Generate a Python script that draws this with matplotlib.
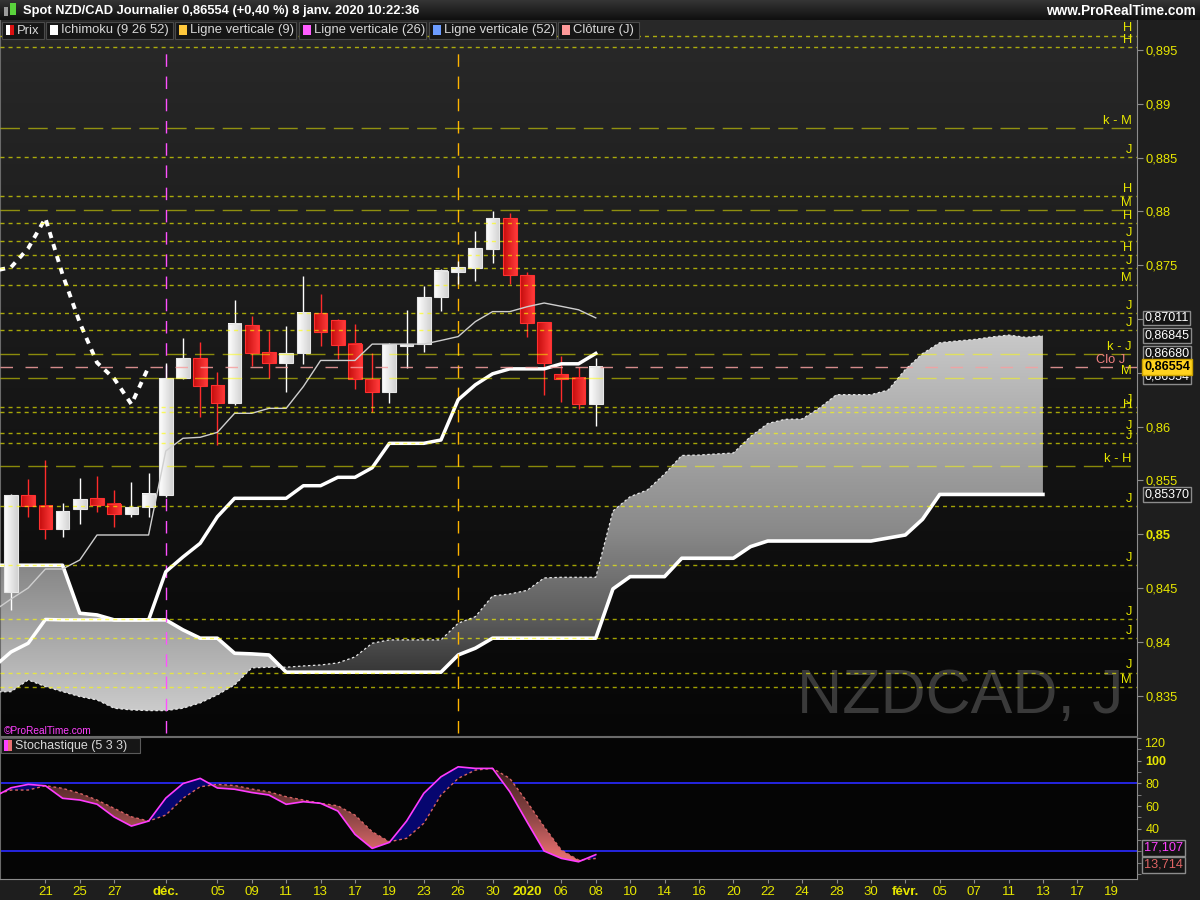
import numpy as np
import matplotlib
matplotlib.use('Agg')
import matplotlib.pyplot as plt
from matplotlib.colors import LinearSegmentedColormap
from matplotlib.path import Path
from matplotlib.patches import Rectangle
from matplotlib.transforms import blended_transform_factory

plt.rcParams['font.family'] = ['Liberation Sans', 'DejaVu Sans']

# daily candles: bar 0 = 19 nov. 2019 ... bar 34 = 8 janv. 2020
opens = [0.84466, 0.85362, 0.85266, 0.85052, 0.85238, 0.85334, 0.85281, 0.85191, 0.85251, 0.85365,
         0.86450, 0.86635, 0.86384, 0.86217, 0.86942, 0.86691, 0.86595, 0.86682, 0.87054, 0.86991,
         0.86766, 0.86440, 0.86325, 0.86752, 0.86766, 0.87202, 0.87435, 0.87477, 0.87654, 0.87937,
         0.87407, 0.86970, 0.86487, 0.86450, 0.86208]
highs = [0.85374, 0.85511, 0.85690, 0.85288, 0.85520, 0.85542, 0.85411, 0.85489, 0.85572, 0.86589,
         0.86824, 0.86784, 0.86505, 0.87177, 0.87029, 0.86892, 0.86936, 0.87400, 0.87233, 0.86998,
         0.86954, 0.86682, 0.86775, 0.87084, 0.87307, 0.87468, 0.87540, 0.87818, 0.88004, 0.87989,
         0.87437, 0.86970, 0.86657, 0.86557, 0.86635]
lows = [0.84296, 0.85158, 0.84959, 0.84977, 0.85095, 0.85210, 0.85070, 0.85163, 0.85163, 0.85346,
        0.86443, 0.86093, 0.85830, 0.86201, 0.86567, 0.86450, 0.86325, 0.86582, 0.86752, 0.86629,
        0.86350, 0.86134, 0.86223, 0.86548, 0.86697, 0.87078, 0.87326, 0.87354, 0.87518, 0.87326,
        0.86836, 0.86294, 0.86232, 0.86167, 0.86009]
closes = [0.85365, 0.85266, 0.85052, 0.85216, 0.85328, 0.85272, 0.85188, 0.85253, 0.85374, 0.86450,
          0.86635, 0.86381, 0.86217, 0.86954, 0.86687, 0.86589, 0.86685, 0.87054, 0.86883, 0.86762,
          0.86440, 0.86325, 0.86766, 0.86766, 0.87202, 0.87447, 0.87481, 0.87658, 0.87937, 0.87412,
          0.86966, 0.86595, 0.86446, 0.86208, 0.86554]

# Ichimoku (9 26 52), tenkan / kijun from bar -1 to bar 34
tenkan = [0.84287, 0.84398, 0.84501, 0.84677, 0.84677, 0.84761, 0.84993, 0.84993, 0.84993, 0.84993,
          0.85774, 0.85892, 0.85901, 0.85947, 0.86124, 0.86124, 0.86170, 0.86170, 0.86373, 0.86615,
          0.86615, 0.86615, 0.86767, 0.86767, 0.86767, 0.86767, 0.86801, 0.86837, 0.86976, 0.87069,
          0.87069, 0.87114, 0.87149, 0.87118, 0.87086, 0.87011]
kijun = [0.83767, 0.83906, 0.83987, 0.84208, 0.84204, 0.84204, 0.84204, 0.84204, 0.84204, 0.84204,
         0.84652, 0.84789, 0.84916, 0.85163, 0.85334, 0.85334, 0.85334, 0.85334, 0.85451, 0.85451,
         0.85529, 0.85529, 0.85618, 0.85845, 0.85845, 0.85845, 0.85876, 0.86250, 0.86389, 0.86491,
         0.86537, 0.86537, 0.86537, 0.86584, 0.86584, 0.86680]
# senkou spans from bar -1 to bar 60
span_a = [0.83535, 0.83537, 0.83646, 0.83584, 0.83537, 0.83491, 0.83460, 0.83383, 0.83367, 0.83361,
          0.83361, 0.83383, 0.83432, 0.83507, 0.83600, 0.83758, 0.83764, 0.83764, 0.83776, 0.83785,
          0.83804, 0.83860, 0.83987, 0.84018, 0.84018, 0.84018, 0.84018, 0.84173, 0.84234, 0.84427,
          0.84445, 0.84478, 0.84594, 0.84600, 0.84600, 0.84600, 0.85216, 0.85349, 0.85411, 0.85560,
          0.85732, 0.85736, 0.85746, 0.85755, 0.85908, 0.86029, 0.86068, 0.86071, 0.86173, 0.86297,
          0.86297, 0.86297, 0.86340, 0.86531, 0.86679, 0.86780, 0.86796, 0.86810, 0.86833, 0.86851,
          0.86830, 0.86845]
span_b = [0.84712, 0.84712, 0.84712, 0.84712, 0.84712, 0.84266, 0.84250, 0.84204, 0.84204, 0.84204,
          0.84204, 0.84111, 0.84034, 0.84034, 0.83894, 0.83888, 0.83878, 0.83718, 0.83718, 0.83718,
          0.83718, 0.83718, 0.83718, 0.83718, 0.83718, 0.83718, 0.83718, 0.83878, 0.83941, 0.84034,
          0.84034, 0.84034, 0.84034, 0.84034, 0.84034, 0.84034, 0.84492, 0.84606, 0.84606, 0.84606,
          0.84777, 0.84777, 0.84777, 0.84777, 0.84885, 0.84937, 0.84937, 0.84937, 0.84937, 0.84937,
          0.84937, 0.84937, 0.84965, 0.84993, 0.85139, 0.85370, 0.85370, 0.85370, 0.85370, 0.85370,
          0.85370, 0.85370]

# Stochastique (5 3 3), bar -1 to bar 34
stoch_k = [67.9, 76.1, 79.1, 77.9, 66.8, 65.3, 61.6, 50.3, 42.3, 46.7, 67.0, 79.8, 84.4, 75.9,
           74.8, 71.9, 69.7, 61.5, 63.8, 62.4, 55.6, 35.0, 22.6, 27.9, 46.7, 71.2, 85.8, 94.6,
           93.2, 93.2, 72.6, 46.1, 20.3, 13.8, 10.8, 17.107]
stoch_d = [69.7, 74.1, 74.1, 77.9, 75.6, 71.2, 65.3, 57.9, 50.5, 46.7, 52.0, 66.8, 77.0, 79.1,
           78.1, 75.0, 72.5, 68.2, 65.3, 62.4, 60.2, 52.0, 37.3, 28.5, 31.5, 44.7, 69.7, 84.4,
           91.7, 93.2, 84.4, 63.8, 41.7, 21.1, 12.3, 13.714]

# horizontal levels on the right
level_prices = [0.89634, 0.89526, 0.88778, 0.88503, 0.88141, 0.88013, 0.87893, 0.87729, 0.87592,
                0.87474, 0.87314, 0.87054, 0.86898, 0.86675, 0.86449, 0.86180, 0.86134, 0.85938,
                0.85845, 0.85634, 0.85260, 0.84712, 0.84210, 0.84033, 0.83714, 0.83578]
level_labels = ['H', 'H', 'k - M', 'J', 'H', 'M', 'H', 'J', 'H', 'J', 'M', 'J', 'J', 'k - J', 'M',
                'J', 'H', 'J', 'J', 'k - H', 'J', 'J', 'J', 'J', 'J', 'M']
long_dash = [2, 5, 13, 14, 19]

date_pos = [2, 4, 6, 9, 12, 14, 16, 18, 20, 22, 24, 26, 28, 30, 32, 34, 36, 38, 40, 42, 44, 46,
            48, 50, 52, 54, 56, 58, 60, 62, 64]
date_labels = ['21', '25', '27', 'déc.', '05', '09', '11', '13', '17', '19', '23', '26', '30',
               '2020', '06', '08', '10', '14', '16', '20', '22', '24', '28', '30', 'févr.', '05',
               '07', '11', '13', '17', '19']

price_ticks = [0.835, 0.84, 0.845, 0.85, 0.855, 0.86, 0.865, 0.87, 0.875, 0.88, 0.885, 0.89, 0.895]

YEL = '#e6e600'
W, H = 1200, 900
XLIM = (-0.64, 65.47)


def fmt(v, n):
    return f"{v:.{n}f}".replace('.', ',')


def grad_cmap(stops):
    return LinearSegmentedColormap.from_list('g', stops)


def clip_gradient(axis, coll, x0, x1, y0, y1, stops, z):
    clip = Path.make_compound_path(*coll.get_paths())
    im = axis.imshow(np.linspace(0, 1, 256)[:, None], origin='lower', aspect='auto',
                     cmap=grad_cmap(stops), extent=[x0, x1, y0, y1], zorder=z,
                     interpolation='bilinear')
    im.set_clip_path(clip, axis.transData)


fig = plt.figure(figsize=(12, 9), dpi=100, facecolor='#1e1e1e')


def fig_box(x0, y0, x1, y1, **kw):
    fig.add_artist(Rectangle((x0 / W, 1 - y1 / H), (x1 - x0) / W, (y1 - y0) / H,
                             transform=fig.transFigure, **kw))


def fig_text(x, y, s, **kw):
    fig.text(x / W, 1 - y / H, s, **kw)


# title bar
ax_t = fig.add_axes([0, 1 - 20 / H, 1, 20 / H])
ax_t.imshow(np.linspace(0, 1, 20)[:, None], aspect='auto', extent=[0, 1, 0, 1],
            cmap=grad_cmap(['#101010', '#343434']), origin='lower')
ax_t.axis('off')
fig_box(4, 7, 8, 16, fc='#9a9a9a', ec='none')
fig_box(10, 3, 16, 15, fc='#5ad23c', ec='none')
fig_text(23, 11, 'Spot NZD/CAD Journalier 0,86554 (+0,40 %) 8 janv. 2020 10:22:36',
         color='white', weight='bold', size=9.3, va='center')
fig_text(1196, 11, 'www.ProRealTime.com', color='white', weight='bold', size=9.8,
         va='center', ha='right')

# ---------------- main price panel ----------------
ax = fig.add_axes([0, 1 - 736 / H, 1137 / W, 716 / H])
ax.set_facecolor('#151515')
ylim = (0.83125, 0.89779)
ax.imshow(np.linspace(0, 1, 256)[:, None], origin='lower', aspect='auto',
          extent=[XLIM[0], XLIM[1], ylim[0], ylim[1]],
          cmap=grad_cmap(['#060606', '#292929']), zorder=0)

ax.text(797 / W, 1 - 713 / H, 'NZDCAD, J', transform=fig.transFigure, size=45,
        color='#3a3a3a', va='baseline', ha='left', zorder=1)

# kumo
xc = np.arange(-1, len(span_a) - 1)
sa = np.array(span_a)
sb = np.array(span_b)
bull = ax.fill_between(xc, sa, sb, where=sa >= sb, interpolate=True, facecolor='none',
                       edgecolor='none')
bear = ax.fill_between(xc, sa, sb, where=sa < sb, interpolate=True, facecolor='none',
                       edgecolor='none')
clip_gradient(ax, bull, -1, 60, 0.8370, 0.8690,
              [(0, '#363636'), (0.16, '#5c5c5c'), (0.42, '#8a8a8a'), (1, '#cacaca')], 2.5)
clip_gradient(ax, bear, -1, 60, 0.8334, 0.8472, [(0, '#cccccc'), (1, '#868686')], 2.5)
ax.plot(xc, sb, color='white', lw=2.6, zorder=4, solid_joinstyle='round')
ax.plot(xc, sa, color='#e8e8e8', lw=0.9, ls=(0, (2, 2)), zorder=4)

# vertical lines
ax.axvline(9, ymin=0.004, ymax=0.965, color='#ff50ff', lw=1, ls=(0, (9, 7)), zorder=4.5)
ax.axvline(26, ymin=0.004, ymax=0.965, color='#ffb400', lw=1, ls=(0, (9, 7)), zorder=4.5)

# candles
white_cmap = grad_cmap(['#ffffff', '#d2d2d2'])
red_cmap = grad_cmap(['#c40c0c', '#ff3a3a'])
hgrad = np.linspace(0, 1, 32)[None, :]
for i in range(len(closes)):
    o, h, l, c = opens[i], highs[i], lows[i], closes[i]
    up = c >= o
    ax.vlines(i, l, h, color='white' if up else '#ff2b2b', lw=1, zorder=5)
    lo, hi = min(o, c), max(o, c)
    ax.imshow(hgrad, extent=[i - 0.4, i + 0.4, lo, hi], aspect='auto',
              cmap=white_cmap if up else red_cmap, zorder=6)
    ax.add_patch(Rectangle((i - 0.4, lo), 0.8, hi - lo, fill=False,
                           ec='#e6e6e6' if up else '#ff3030', lw=0.8, zorder=6.5))

# tenkan, kijun, chikou
xi = np.arange(-1, len(tenkan) - 1)
ax.plot(xi, tenkan, color='#cfcfcf', lw=1.0, zorder=7)
ax.plot(xi, kijun, color='white', lw=2.5, zorder=7, solid_joinstyle='round')
ax.plot(np.arange(-1, 9), closes[25:35], color='white', lw=2.8, ls=(0, (1.6, 1.6)), zorder=7)

# horizontal levels
for n, (p, lab) in enumerate(zip(level_prices, level_labels)):
    if n in long_dash:
        ax.axhline(p, color='#ffff00', alpha=0.5, lw=1, ls=(0, (14, 6)), zorder=9)
    else:
        ax.axhline(p, color='#ffff00', alpha=0.62, lw=1, ls=(0, (2.9, 2.9)), zorder=9)
    ax.annotate(lab, xy=(65.17, p), xytext=(0, 3), textcoords='offset points', ha='right',
                va='baseline', color=YEL, size=9.3, zorder=10)
ax.axhline(closes[-1], color='#f6a0a0', alpha=0.85, lw=1, ls=(0, (9, 9)), zorder=9)
ax.annotate('Clo J', xy=(64.8, closes[-1]), xytext=(0, 3), textcoords='offset points',
            ha='right', va='baseline', color='#f08080', size=9.3, zorder=10)

ax.set_xlim(*XLIM)
ax.set_ylim(*ylim)
ax.set_xticks([])
ax.yaxis.tick_right()
ax.set_yticks(price_ticks)
# 0,865 and 0,87 sit behind the value boxes, so their labels stay hidden
hidden_ticks = (0.865, 0.87)
ax.set_yticklabels(['' if v in hidden_ticks else f"{v:.3f}".rstrip('0').replace('.', ',')
                    for v in price_ticks])
ax.tick_params(axis='y', colors='#8c8c8c', labelcolor=YEL, labelsize=9.3, length=4, pad=2)
for t in ax.get_yticklabels():
    if t.get_text() == '0,85':
        t.set_fontweight('bold')
for side in ['left', 'bottom']:
    ax.spines[side].set_color('#6a6a6a')
ax.spines['right'].set_color('#8c8c8c')
ax.spines['top'].set_visible(False)

# value boxes on the right axis
trans = blended_transform_factory(ax.transAxes, ax.transData)
box = dict(boxstyle='square,pad=0.1', fc='#141414', ec='#8c8c8c', lw=1)
for v in [tenkan[-1], span_a[-1], kijun[-1], span_b[-1]]:
    ax.text(1.0066, v, fmt(v, 5), transform=trans, color='white', size=9, va='center',
            ha='left', bbox=box, clip_on=False, zorder=20)
ax.annotate(fmt(closes[-1], 5), xy=(1.0066, closes[-1]), xycoords=trans, xytext=(0, -7),
            textcoords='offset points', color='white', size=9, va='center', ha='left',
            bbox=box, annotation_clip=False, zorder=20)
ax.text(1.0062, closes[-1], fmt(closes[-1], 5), transform=trans, color='black', size=9.1,
        weight='bold', va='center', ha='left', clip_on=False, zorder=21,
        bbox=dict(boxstyle='square,pad=0.18', fc='#ffd21e', ec='#c8a000', lw=1))

# legends
fig_text(4, 731, '©ProRealTime.com', color='#ff40ff', size=7.3, va='center')
legend_items = ['Prix', 'Ichimoku (9 26 52)', 'Ligne verticale (9)', 'Ligne verticale (26)',
                'Ligne verticale (52)', 'Clôture (J)']
legend_x = [(2, 43.5), (45.6, 173), (175, 296.4), (298.5, 426), (429, 555.5), (557.6, 638.5)]
legend_col = [None, '#ffffff', '#ffc83c', '#ff5cff', '#6c9cff', '#ff9a9a']
for lab, (x0, x1), col in zip(legend_items, legend_x, legend_col):
    fig_box(x0, 22, x1, 38.5, fc='#161616', ec='#4a4a4a', lw=0.8)
    if col is None:
        fig_box(x0 + 4, 25, x0 + 8, 35, fc='white', ec='none')
        fig_box(x0 + 8, 25, x0 + 12, 35, fc='#dd1111', ec='none')
    else:
        fig_box(x0 + 4, 25, x0 + 12, 35, fc=col, ec='none')
    fig_text(x0 + 15, 30.5, lab, color='#d8d8d8', size=9.4, va='center')

# ---------------- stochastic panel ----------------
ax2 = fig.add_axes([0, 1 - 879 / H, 1137 / W, 142 / H])
ax2.set_facecolor('#050505')
xs = np.arange(-1, len(stoch_k) - 1)
k = np.array(stoch_k)
d = np.array(stoch_d)
ax2.axhline(80, color='#2828f0', lw=1.3, zorder=1)
ax2.axhline(20, color='#2828f0', lw=1.3, zorder=1)
ax2.fill_between(xs, k, d, where=k >= d, interpolate=True, color='#06066f', lw=0, zorder=2)
below = ax2.fill_between(xs, k, d, where=k < d, interpolate=True, facecolor='none',
                         edgecolor='none')
clip_gradient(ax2, below, -1, 35, 8, 96,
              [(0, '#ec7878'), (0.15, '#d86868'), (0.5, '#8a4444'), (1, '#381b1b')], 2)
ax2.plot(xs, d, color='#d86464', lw=1, ls=(0, (2, 2)), zorder=3)
ax2.plot(xs, k, color='#ff3cff', lw=1.2, zorder=4)
ax2.set_xlim(*XLIM)
ax2.set_ylim(-4.4, 120.9)

ax2.yaxis.tick_right()
ax2.set_yticks([40, 60, 80, 100, 120])
ax2.set_yticklabels(['40', '60', '80', '100', ''])
ax2.set_yticks(np.arange(0, 121, 10), minor=True)
ax2.tick_params(axis='y', which='both', colors='#8c8c8c', labelcolor=YEL, labelsize=9,
                length=3, pad=3)
for t in ax2.get_yticklabels():
    if t.get_text() == '100':
        t.set_fontweight('bold')
trans2 = blended_transform_factory(ax2.transAxes, ax2.transData)
ax2.text(1.0062, 114.5, '120', transform=trans2, color=YEL, size=9, va='center',
         clip_on=False)
sbox = dict(boxstyle='square,pad=0.15', fc='#141414', ec='#8c8c8c', lw=1)
ax2.annotate(fmt(stoch_k[-1], 3), xy=(1.0062, stoch_k[-1]), xycoords=trans2, xytext=(0, 5),
             textcoords='offset points', color='#ff40ff', size=9.2, va='center', ha='left',
             bbox=sbox, annotation_clip=False, zorder=20)
ax2.annotate(fmt(stoch_d[-1], 3), xy=(1.0062, stoch_d[-1]), xycoords=trans2,
             xytext=(0, -4.5), textcoords='offset points', color='#e06464', size=9.2,
             va='center', ha='left', bbox=sbox, annotation_clip=False, zorder=20)

ax2.set_xticks(date_pos)
ax2.set_xticklabels(date_labels)
ax2.tick_params(axis='x', colors='#8c8c8c', labelcolor=YEL, labelsize=9.5, length=3, pad=2)
for t in ax2.get_xticklabels():
    if t.get_text() in ('déc.', '2020', 'févr.'):
        t.set_fontweight('bold')
for side in ['left', 'top']:
    ax2.spines[side].set_color('#6a6a6a')
for side in ['right', 'bottom']:
    ax2.spines[side].set_color('#8c8c8c')

fig_box(1, 737.5, 140, 753, fc='#161616', ec='#5a5a5a', lw=0.8)
fig_box(4, 740, 8, 751, fc='#ff40ff', ec='none')
fig_box(8, 740, 12, 751, fc='#e87070', ec='none')
fig_text(15, 745.5, 'Stochastique (5 3 3)', color='#d8d8d8', size=9, va='center')

fig.savefig('out.png', dpi=100, facecolor=fig.get_facecolor())
